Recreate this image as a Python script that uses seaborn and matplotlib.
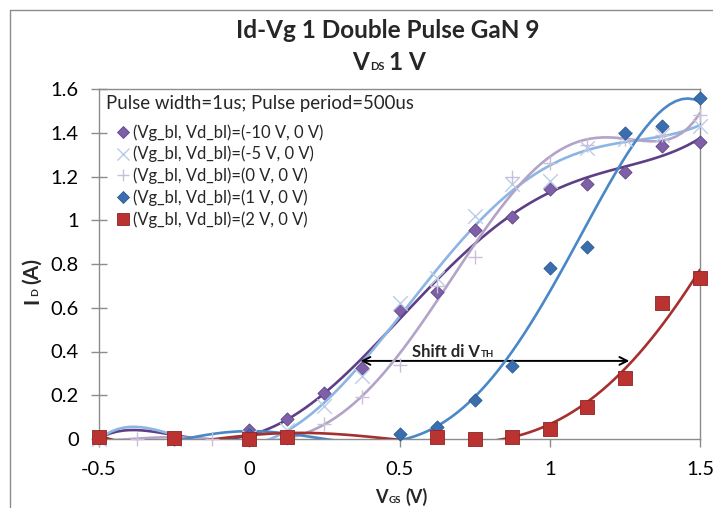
import numpy as np
import pandas as pd
import matplotlib
matplotlib.use("Agg")
import matplotlib.pyplot as plt
import seaborn as sns
from matplotlib.lines import Line2D

# ---------------- data ----------------
labels = ["(Vg_bl, Vd_bl)=(-10 V, 0 V)", "(Vg_bl, Vd_bl)=(-5 V, 0 V)",
          "(Vg_bl, Vd_bl)=(0 V, 0 V)", "(Vg_bl, Vd_bl)=(1 V, 0 V)",
          "(Vg_bl, Vd_bl)=(2 V, 0 V)"]

vg_m10 = [-0.5, -0.25, 0, 0.125, 0.25, 0.375, 0.5, 0.625, 0.75, 0.875, 1.0, 1.125, 1.25, 1.375, 1.5]
id_m10 = [0.005, 0.005, 0.04, 0.09, 0.21, 0.325, 0.59, 0.67, 0.955, 1.015, 1.145, 1.165, 1.22, 1.34, 1.36]

vg_m5 = [-0.5, -0.25, 0, 0.125, 0.25, 0.375, 0.5, 0.625, 0.75, 0.875, 1.0, 1.125, 1.25, 1.375, 1.5]
id_m5 = [0.0, 0.0, 0.01, 0.04, 0.15, 0.29, 0.62, 0.735, 1.02, 1.165, 1.18, 1.33, 1.37, 1.39, 1.43]

vg_0 = [-0.5, -0.375, -0.25, -0.125, 0, 0.125, 0.25, 0.375, 0.5, 0.625, 0.75, 0.875, 1.0, 1.125, 1.25, 1.375, 1.5]
id_0 = [0.0, 0.0, 0.0, 0.0, 0.0, 0.005, 0.07, 0.19, 0.34, 0.70, 0.83, 1.20, 1.26, 1.345, 1.37, 1.39, 1.48]

vg_p1 = [-0.5, -0.25, 0, 0.5, 0.625, 0.75, 0.875, 1.0, 1.125, 1.25, 1.375, 1.5]
id_p1 = [0.01, 0.0, 0.02, 0.025, 0.055, 0.18, 0.335, 0.78, 0.88, 1.40, 1.43, 1.56]

vg_p2 = [-0.5, -0.25, 0, 0.125, 0.625, 0.75, 0.875, 1.0, 1.125, 1.25, 1.375, 1.5]
id_p2 = [0.01, 0.005, 0.0, 0.01, 0.01, 0.0, 0.01, 0.045, 0.145, 0.28, 0.62, 0.735]

# polynomial trend-line order per series
trend_order = [6, 6, 6, 6, 5]

xticks = [-0.5, 0, 0.5, 1, 1.5]
xtick_labels = ["-0.5", "0", "0.5", "1", "1.5"]
yticks = [0, 0.2, 0.4, 0.6, 0.8, 1.0, 1.2, 1.4, 1.6]
ytick_labels = ["0", "0.2", "0.4", "0.6", "0.8", "1", "1.2", "1.4", "1.6"]

# ---------------- style ----------------
sns.set_theme(style="white")
plt.rcParams["font.family"] = ["Lato", "DejaVu Sans"]

W, H = 713, 508
series = [
    dict(x=vg_m10, y=id_m10, marker="D", s=45, fc="#7E5FA8", ec="#5E4585", lc="#5E3F86", lw=0.6),
    dict(x=vg_m5, y=id_m5, marker="x", s=110, fc="#B9CDE6", ec="#B9CDE6", lc="#8DB5E3", lw=1.0),
    dict(x=vg_0, y=id_0, marker="+", s=90, fc="#C9BFDB", ec="#C9BFDB", lc="#B4A3C8", lw=1.0),
    dict(x=vg_p1, y=id_p1, marker="D", s=45, fc="#3B6EAE", ec="#2B5A92", lc="#4A87C7", lw=0.6),
    dict(x=vg_p2, y=id_p2, marker="s", s=90, fc="#BA3331", ec="#8E2322", lc="#A5302E", lw=0.6),
]

fig = plt.figure(figsize=(W / 100, H / 100), dpi=100)
ax = fig.add_axes([99 / W, 1 - 439 / H, 601 / W, 350 / H])

for i, sd in enumerate(series):
    df = pd.DataFrame({"Vg": sd["x"], "Id": sd["y"]})
    sns.regplot(data=df, x="Vg", y="Id", order=trend_order[i], ci=None, scatter=False,
                line_kws=dict(color=sd["lc"], lw=1.9, zorder=2 + i), ax=ax)
for i, sd in enumerate(series):
    df = pd.DataFrame({"Vg": sd["x"], "Id": sd["y"]})
    if sd["marker"] in ("x", "+"):
        sns.scatterplot(data=df, x="Vg", y="Id", marker=sd["marker"], s=sd["s"],
                        color=sd["fc"], linewidth=1.0, ax=ax, clip_on=False, zorder=10 + i)
    else:
        sns.scatterplot(data=df, x="Vg", y="Id", marker=sd["marker"], s=sd["s"],
                        color=sd["fc"], edgecolor=sd["ec"], linewidth=sd["lw"], ax=ax,
                        clip_on=False, zorder=10 + i)

ax.set_xlim(-0.5, 1.5)
ax.set_ylim(0, 1.6)
ax.set_xticks(xticks)
ax.set_xticklabels(xtick_labels)
ax.set_yticks(yticks)
ax.set_yticklabels(ytick_labels)
ax.set_xlabel("")
ax.set_ylabel("")
for sp in ax.spines.values():
    sp.set_visible(True)
    sp.set_color("#8C8C8C")
    sp.set_linewidth(1.0)
ax.tick_params(axis="y", direction="inout", length=11, width=1, color="#8C8C8C",
               labelsize=14.5, pad=9, labelcolor="black", left=True)
ax.tick_params(axis="x", direction="out", length=6, width=1, color="#8C8C8C",
               labelsize=14.5, pad=10, labelcolor="black", bottom=True)
ax.grid(False)

# double arrow
ax.annotate("", xy=(0.37, 0.357), xytext=(1.265, 0.357),
            arrowprops=dict(arrowstyle="<->", color="black", lw=1.4,
                            mutation_scale=14, shrinkA=0, shrinkB=0))

# legend (entries) + legend title as separate text
handles = []
for sd in series:
    if sd["marker"] in ("x", "+"):
        h = Line2D([], [], ls="none", marker=sd["marker"], color=sd["fc"],
                   markersize=8.5, markeredgewidth=1.0)
    else:
        h = Line2D([], [], ls="none", marker=sd["marker"], markerfacecolor=sd["fc"],
                   markeredgecolor=sd["ec"], markersize=6.5 if sd["marker"] == "D" else 8.5,
                   markeredgewidth=0.6)
    handles.append(h)
leg = ax.legend(handles, labels, loc="upper left",
                bbox_to_anchor=(116 / W, 1 - 124 / H), bbox_transform=fig.transFigure,
                frameon=False, fontsize=11.9, handlelength=0.85, handletextpad=0.18,
                labelspacing=0.32, borderaxespad=0, borderpad=0)
fig.text(106 / W, 1 - 104 / H, "Pulse width=1us; Pulse period=500us", ha="left",
         va="center", fontsize=13.4)

# ---------------- rich text helper (small baseline-aligned subscripts) ----------------
renderer = fig.canvas.get_renderer()


def measure(t, fs):
    tmp = fig.text(0, 0, t, fontsize=fs, fontweight="bold")
    w = tmp.get_window_extent(renderer=renderer).width
    tmp.remove()
    return w


def rich(pieces, xc=None, yb=None, x0=None, rotate=False, yc=None, xb=None):
    widths = [measure(t, fs) for t, fs, g in pieces]
    total = sum(widths) + sum(g for _, _, g in pieces)
    if not rotate:
        x = x0 if x0 is not None else xc - total / 2
        for (t, fs, g), w in zip(pieces, widths):
            x += g
            fig.text(x / W, 1 - yb / H, t, fontsize=fs, fontweight="bold",
                     ha="left", va="baseline")
            x += w
    else:
        y = yc + total / 2  # pixels from top, start at bottom
        for (t, fs, g), w in zip(pieces, widths):
            y -= g
            fig.text(xb / W, 1 - y / H, t, fontsize=fs, fontweight="bold",
                     ha="left", va="baseline", rotation=90, rotation_mode="anchor")
            y -= w


# titles
fig.text(388 / W, 1 - 38 / H, "Id-Vg 1 Double Pulse GaN 9", ha="center", va="baseline",
         fontsize=17.5, fontweight="bold")
rich([("V", 17.5, 0), ("DS", 8, 1), ("1 V", 17.5, 5)], xc=389, yb=70)
# axis labels
rich([("V", 13, 0), ("GS", 7, 1), ("(V)", 13, 4)], xc=401, yb=503)
rich([("I", 15, 0), ("D", 7.5, 1), ("(A)", 15, 4)], rotate=True, yc=281, xb=38)
# arrow annotation
rich([("Shift di V", 12, 0), ("TH", 7, 1)], x0=412, yb=357)

# chart-area border (left and top edges visible)
fig.add_artist(Line2D([10 / W, 10 / W], [0, 1 - 10 / H], transform=fig.transFigure,
                      color="#8C8C8C", lw=1))
fig.add_artist(Line2D([10 / W, 1], [1 - 10 / H, 1 - 10 / H], transform=fig.transFigure,
                      color="#8C8C8C", lw=1))

fig.savefig("out.png", dpi=100)
